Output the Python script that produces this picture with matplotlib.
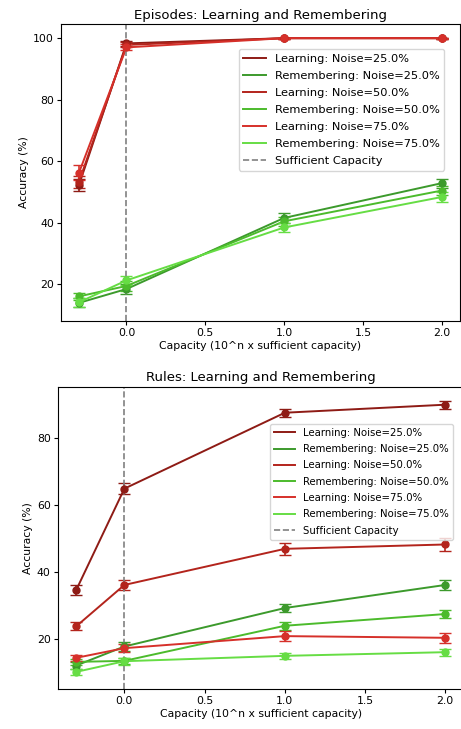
import numpy as np
import matplotlib
matplotlib.use('Agg')
import matplotlib.pyplot as plt

# capacity: 0.5x, 1x, 10x, 100x of sufficient capacity -> log10
capacity = np.log10([0.5, 1, 10, 100])
noise_levels = ['25.0', '50.0', '75.0']

learn_colors = ['#8e1b15', '#b3241c', '#d6302a']
remem_colors = ['#3c9a2c', '#4cbb2c', '#66dd44']

# Episodes
ep_learn = [[52.3, 98.3, 100, 100],
            [53.3, 97.8, 100, 100],
            [56.3, 97.0, 100, 100]]
ep_learn_err = [[2.0, 0.8, 0.2, 0.2],
                [2.0, 0.8, 0.2, 0.2],
                [2.5, 1.0, 0.2, 0.2]]
ep_remem = [[14.0, 18.5, 41.6, 52.9],
            [16.1, 19.5, 40.5, 50.5],
            [14.2, 21.3, 38.5, 48.4]]
ep_remem_err = [[1.5, 1.5, 1.5, 1.5],
                [1.2, 1.5, 1.5, 1.5],
                [1.5, 1.5, 1.5, 1.5]]

# Rules
ru_learn = [[34.6, 65.0, 87.7, 90.1],
            [23.8, 36.2, 47.0, 48.3],
            [14.4, 17.3, 20.9, 20.4]]
ru_learn_err = [[1.5, 1.7, 1.2, 1.2],
                [1.2, 1.5, 1.7, 1.8],
                [1.0, 1.2, 1.5, 1.5]]
ru_remem = [[12.1, 17.8, 29.3, 36.2],
            [13.2, 13.5, 24.0, 27.5],
            [10.2, 13.4, 15.0, 16.1]]
ru_remem_err = [[1.0, 1.2, 1.3, 1.5],
                [1.0, 1.0, 1.2, 1.3],
                [1.0, 1.0, 1.0, 1.0]]

fig = plt.figure(figsize=(4.61, 7.29), dpi=100)
ax1 = fig.add_axes([0.132, 0.5597, 0.866, 0.4073])
ax2 = fig.add_axes([0.125, 0.0549, 0.881, 0.4143])


def draw(ax, title, learn, learn_err, remem, remem_err, leg_fs, anchor):
    for i, n in enumerate(noise_levels):
        # lines carry the legend, errorbars add markers + caps
        ax.plot(capacity, learn[i], color=learn_colors[i], lw=1.4,
                label='Learning: Noise=%s%%' % n)
        ax.errorbar(capacity, learn[i], yerr=learn_err[i], fmt='o', color=learn_colors[i],
                    ms=5, elinewidth=1.2, capsize=4)
        ax.plot(capacity, remem[i], color=remem_colors[i], lw=1.4,
                label='Remembering: Noise=%s%%' % n)
        ax.errorbar(capacity, remem[i], yerr=remem_err[i], fmt='o', color=remem_colors[i],
                    ms=5, elinewidth=1.2, capsize=4)
    ax.axvline(0, color='gray', ls='--', lw=1.2, label='Sufficient Capacity')
    ax.set_title(title, fontsize=9.5, pad=4)
    ax.set_xlabel('Capacity (10^n x sufficient capacity)', fontsize=7.8, labelpad=2)
    ax.set_ylabel('Accuracy (%)', fontsize=7.8, labelpad=3)
    ax.tick_params(labelsize=7.8, length=3, pad=2)
    ax.legend(loc='upper right', bbox_to_anchor=anchor, fontsize=leg_fs,
              handlelength=2.0, labelspacing=0.62, borderpad=0.4)


draw(ax1, 'Episodes: Learning and Remembering', ep_learn, ep_learn_err,
     ep_remem, ep_remem_err, 8.2, (0.975, 0.935))
draw(ax2, 'Rules: Learning and Remembering', ru_learn, ru_learn_err,
     ru_remem, ru_remem_err, 7.3, (0.985, 0.895))

fig.savefig('out.png', dpi=100)
